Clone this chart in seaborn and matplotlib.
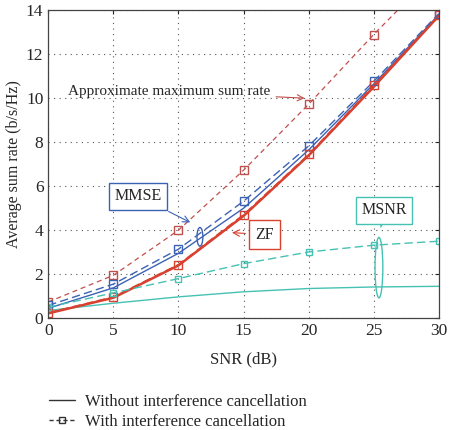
import numpy as np
import seaborn as sns
import matplotlib.pyplot as plt
from matplotlib.lines import Line2D
from matplotlib.patches import Ellipse

# SNR points (dB)
snr = [0, 5, 10, 15, 20, 25, 30]

# average sum rate (b/s/Hz)
approx_max = [0.74, 1.95, 4.0, 6.73, 9.73, 12.9, 15.9]
mmse_ic = [0.58, 1.55, 3.14, 5.32, 7.83, 10.77, 13.85]
mmse_no = [0.45, 1.38, 2.95, 5.0, 7.65, 10.65, 13.8]
zf_ic = [0.25, 0.97, 2.44, 4.71, 7.45, 10.59, 13.77]
zf_no = [0.22, 0.93, 2.4, 4.65, 7.4, 10.52, 13.75]
msnr_ic = [0.5, 1.15, 1.8, 2.48, 3.01, 3.32, 3.5]
msnr_no = [0.35, 0.68, 0.97, 1.2, 1.35, 1.42, 1.45]

red = "#d8402f"
brown = "#c0504d"
blue = "#3b62b4"
teal = "#46c2b4"

sns.set_style("white")
plt.rcParams["font.family"] = ["Liberation Serif", "DejaVu Serif"]
plt.rcParams["font.size"] = 12

fig = plt.figure(figsize=(4.51, 4.30), dpi=100)
ax = fig.add_axes([0.107, 0.26, 0.866, 0.716])

# solid lines: without interference cancellation
sns.lineplot(x=snr, y=msnr_no, ax=ax, color=teal, lw=1.0)
sns.lineplot(x=snr, y=mmse_no, ax=ax, color=blue, lw=1.0)
sns.lineplot(x=snr, y=zf_no, ax=ax, color=red, lw=1.8)

# dashed with squares: with interference cancellation
sns.lineplot(x=snr, y=approx_max, ax=ax, color=brown, lw=0.9, marker="s", ms=6,
             mfc="none", mec=brown, mew=1.0, linestyle=(0, (4, 3)))
sns.lineplot(x=snr, y=mmse_ic, ax=ax, color=blue, lw=1.0, marker="s", ms=6,
             mfc="none", mec=blue, mew=1.0, linestyle=(0, (6, 3)))
sns.lineplot(x=snr, y=zf_ic, ax=ax, color=red, lw=1.0, marker="s", ms=6,
             mfc="none", mec=red, mew=1.0, linestyle=(0, (6, 3)))
sns.lineplot(x=snr, y=msnr_ic, ax=ax, color=teal, lw=1.0, marker="s", ms=4,
             mfc="none", mec=teal, mew=1.0, linestyle=(0, (6, 3)))

ax.set_xlim(0, 30)
ax.set_ylim(0, 14)
ax.set_xticks(range(0, 31, 5))
ax.set_yticks(range(0, 15, 2))
ax.grid(True, color="#555555", linestyle=(0, (1, 4)), lw=0.8)
for s in ax.spines.values():
    s.set_color("#444444")
    s.set_linewidth(0.9)
ax.tick_params(direction="in", length=3, labelsize=12.5, top=True, right=True)
ax.set_xlabel("SNR (dB)", fontsize=12, labelpad=9)
ax.set_ylabel("Average sum rate (b/s/Hz)", fontsize=11.5, labelpad=3)

# annotations
ax.annotate("Approximate maximum sum rate", xy=(19.9, 10.0), xytext=(1.5, 10.3),
            fontsize=11, va="center",
            arrowprops=dict(arrowstyle="->", color=brown, lw=0.8))
ax.annotate("MMSE", xy=(11.1, 4.3), xytext=(6.9, 5.55), fontsize=11.5,
            ha="center", va="center",
            bbox=dict(boxstyle="square,pad=0.35", fc="white", ec=blue, lw=1.0),
            arrowprops=dict(arrowstyle="->", color=blue, lw=0.8))
ax.add_patch(Ellipse((11.65, 3.7), 0.45, 0.85, fill=False, ec=blue, lw=1.0))
ax.annotate("ZF", xy=(13.9, 3.9), xytext=(16.6, 3.8), fontsize=11.5,
            ha="center", va="center",
            bbox=dict(boxstyle="square,pad=0.4", fc="white", ec=red, lw=1.0),
            arrowprops=dict(arrowstyle="->", color=red, lw=0.8))
ax.annotate("MSNR", xy=(25.5, 4.0), xytext=(25.8, 4.9), fontsize=11.5,
            ha="center", va="center",
            bbox=dict(boxstyle="square,pad=0.35", fc="white", ec=teal, lw=1.0),
            arrowprops=dict(arrowstyle="->", color=teal, lw=0.8))
ax.add_patch(Ellipse((25.4, 2.3), 0.6, 2.75, fill=False, ec=teal, lw=1.0))

handles = [
    Line2D([], [], color="#333333", lw=1.0),
    Line2D([], [], color="#333333", lw=1.0, linestyle=(0, (3, 2)), marker="s",
           ms=5, mfc="none"),
]
fig.legend(handles, ["Without interference cancellation",
                     "With interference cancellation"],
           loc="lower left", bbox_to_anchor=(0.075, -0.035), frameon=False,
           fontsize=12, handlelength=1.6, handletextpad=0.6, labelspacing=0.25)

fig.savefig("out.png", dpi=100)
